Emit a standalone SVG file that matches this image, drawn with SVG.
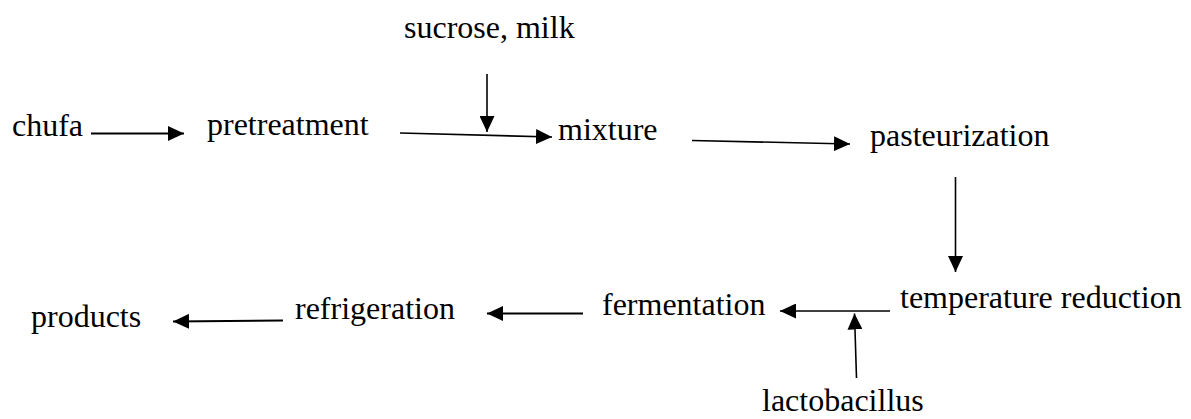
<svg xmlns="http://www.w3.org/2000/svg" width="1191" height="419" viewBox="0 0 1191 419">
  <style>
    text { font-family: "Liberation Serif", "Times New Roman", serif; font-size: 32px; fill: #000; }
    .conn { stroke: #000; fill: none; marker-end: url(#head); }
    .thin { stroke-width: 1.6; }
    .bold { stroke-width: 2.2; }
  </style>
  <defs>
    <!-- solid triangular arrowhead, tip at the path end -->
    <marker id="head" markerUnits="userSpaceOnUse" viewBox="0 0 16 15" refX="16" refY="7.5" markerWidth="16" markerHeight="15" orient="auto">
      <path d="M0,0 L16,7.5 L0,15 Z" fill="#000"/>
    </marker>
  </defs>

  <rect width="1191" height="419" fill="#fff"/>

  <!-- process steps -->
  <g id="chufa"><text x="12" y="136">chufa</text></g>
  <g id="pretreatment"><text x="207" y="134.5">pretreatment</text></g>
  <g id="sucrose-milk"><text x="404" y="38">sucrose, milk</text></g>
  <g id="mixture"><text x="558" y="139.5">mixture</text></g>
  <g id="pasteurization"><text x="870" y="146">pasteurization</text></g>
  <g id="temperature-reduction"><text x="900" y="308">temperature reduction</text></g>
  <g id="fermentation"><text x="602" y="314.5">fermentation</text></g>
  <g id="lactobacillus"><text x="762" y="411">lactobacillus</text></g>
  <g id="refrigeration"><text x="295" y="318.5">refrigeration</text></g>
  <g id="products"><text x="31" y="327">products</text></g>

  <!-- flow connectors -->
  <g id="connectors">
    <line class="conn bold" x1="91" y1="133.5" x2="184" y2="133.5"/>
    <line class="conn thin" x1="400" y1="133" x2="552" y2="137"/>
    <line class="conn thin" x1="487" y1="74" x2="487" y2="132"/>
    <line class="conn thin" x1="692" y1="140.5" x2="850" y2="144"/>
    <line class="conn thin" x1="955.5" y1="177" x2="955.5" y2="272"/>
    <line class="conn thin" x1="890" y1="311" x2="780" y2="311"/>
    <line class="conn thin" x1="856.5" y1="378" x2="854.5" y2="313.5"/>
    <line class="conn bold" x1="583" y1="313.5" x2="487" y2="313.5"/>
    <line class="conn bold" x1="283" y1="320.5" x2="173" y2="321.5"/>
  </g>
</svg>
